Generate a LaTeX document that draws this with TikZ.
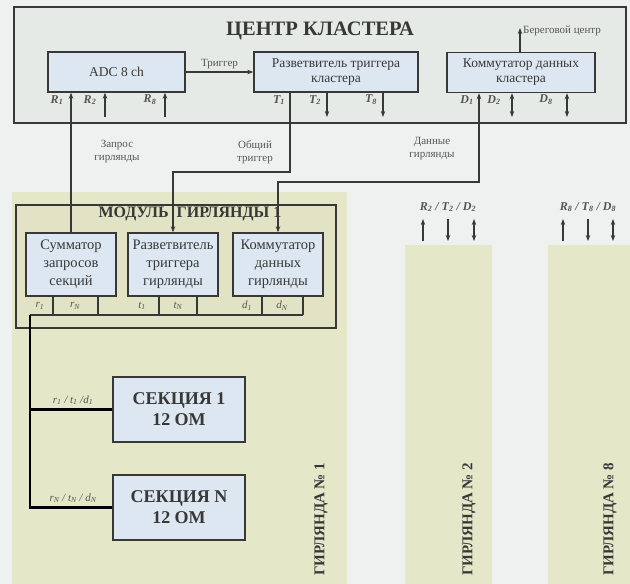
\documentclass[tikz,border=0pt]{standalone}
\usepackage{fontspec}
\setmainfont{Liberation Serif}
\usetikzlibrary{arrows.meta}
\definecolor{bg}{HTML}{EEF1F0}
\definecolor{stripe}{HTML}{E4E7C8}
\definecolor{clusterfill}{HTML}{E6EAE6}
\definecolor{boxfill}{HTML}{DCE7F1}
\definecolor{modfill}{HTML}{E2E3C4}
\definecolor{ln}{HTML}{383838}
\definecolor{lbl}{HTML}{555555}
\begin{document}
\begin{tikzpicture}[x=1pt,y=-1pt,
  outerbox/.style={draw=ln, line width=1.4pt, fill=clusterfill},
  modbox/.style={draw=ln, line width=1.4pt, fill=modfill},
  blk/.style={draw=ln, line width=1.4pt, fill=boxfill, align=center, inner sep=1pt,
    font=\fontsize{13.5}{15}\selectfont, text=ln},
  mblk/.style={draw=ln, line width=1.4pt, fill=boxfill, align=center, inner sep=1pt,
    minimum width=90pt, minimum height=63pt, font=\fontsize{14.5}{18}\selectfont, text=ln},
  secbox/.style={draw=ln, line width=1.4pt, fill=boxfill, align=center, text=ln,
    minimum width=132pt, minimum height=65pt, font=\bfseries\fontsize{18}{21}\selectfont},
  port/.style={text=lbl, font=\bfseries\itshape\fontsize{12}{12}\selectfont, inner sep=0pt},
  cell/.style={text=lbl, font=\itshape\fontsize{11}{11}\selectfont, inner sep=0pt},
  note/.style={text=ln!85, align=center, font=\fontsize{11}{13}\selectfont, inner sep=0pt},
  arr/.style={draw=ln, line width=1.1pt, -{Stealth[length=6pt,width=4.5pt]}},
  darr/.style={draw=ln, line width=1.1pt, {Stealth[length=6pt,width=4.5pt]}-{Stealth[length=6pt,width=4.5pt]}},
  wire/.style={draw=ln, line width=1.1pt},
  busline/.style={draw=black, line width=2.2pt},
  garl/.style={rotate=90, anchor=west, inner sep=0pt, font=\bfseries\fontsize{15}{15}\selectfont, text=ln}
]
\useasboundingbox (0,0) rectangle (630,584);
\fill[bg] (0,0) rectangle (630,584);
% stripes
\fill[stripe] (12,192) rectangle (347,584);
\fill[stripe] (405,245) rectangle (492,584);
\fill[stripe] (548,245) rectangle (630,584);

% cluster center
\node[outerbox, minimum width=612pt, minimum height=116pt, inner sep=0pt] (cluster) at (320,65) {};
\node[font=\bfseries\fontsize{20.5}{20.5}\selectfont, text=ln] (ctitle) at (320,31) {ЦЕНТР КЛАСТЕРА};
\node[blk, minimum width=137pt, minimum height=40pt] (adc) at (116.5,72) {ADC 8 ch};
\node[blk, minimum width=164pt, minimum height=40pt] (trc) at (336,72) {Разветвитель триггера\\кластера};
\node[blk, minimum width=148pt, minimum height=40pt] (dcc) at (521,72.5) {Коммутатор данных\\кластера};

\draw[arr] (adc.east) -- node[note, above=3pt] {Триггер} (trc.west);

\coordinate (shore) at (520,28);
\draw[arr] (shore |- dcc.north) -- (shore);
\node[note, anchor=west] (shoretxt) at (523,31) {Береговой центр};

% port coordinates
\coordinate (R2) at (105,0);
\coordinate (R8) at (165,0);
\coordinate (T1) at (290,0);
\coordinate (T2) at (327,0);
\coordinate (T8) at (383,0);
\coordinate (D1) at (479,0);
\coordinate (D2) at (512,0);
\coordinate (D8) at (567,0);
\coordinate (low) at (0,117);

\node[port] at (57,100) {R\textsubscript{1}};
\node[port] at (90,100) {R\textsubscript{2}};
\node[port] at (150,100) {R\textsubscript{8}};
\node[port] at (279,100) {T\textsubscript{1}};
\node[port] at (315,100) {T\textsubscript{2}};
\node[port] at (371,100) {T\textsubscript{8}};
\node[port] at (467,100) {D\textsubscript{1}};
\node[port] at (494,100) {D\textsubscript{2}};
\node[port] at (546,100) {D\textsubscript{8}};

\draw[arr] (R2 |- low) -- (R2 |- adc.south);
\draw[arr] (R8 |- low) -- (R8 |- adc.south);
\draw[arr] (T2 |- trc.south) -- (T2 |- low);
\draw[arr] (T8 |- trc.south) -- (T8 |- low);
\draw[darr] (D2 |- dcc.south) -- (D2 |- low);
\draw[darr] (D8 |- dcc.south) -- (D8 |- low);

% notes between
\node[note] at (117,152) {Запрос\\гирлянды};
\node[note] at (255,152) {Общий\\триггер};
\node[note] at (432,149) {Данные\\гирлянды};

% module
\node[modbox, minimum width=320pt, minimum height=123pt, inner sep=0pt] (module) at (176,266.5) {};
\node[font=\bfseries\fontsize{16}{16}\selectfont, text=ln] (mtitle) at (190,214) {МОДУЛЬ\ \ ГИРЛЯНДЫ 1};
\node[mblk] (sum) at (71,264.5) {Сумматор\\запросов\\секций};
\node[mblk] (trg) at (173,264.5) {Разветвитель\\триггера\\гирлянды};
\node[mblk] (dcg) at (278,264.5) {Коммутатор\\данных\\гирлянды};

% connections cluster <-> module
\draw[arr] (sum.north) -- (sum.north |- adc.south);
\draw[arr] (T1 |- trc.south) -- (T1 |- 0,172) -| (trg.north);
\draw[darr] (D1 |- dcc.south) -- (D1 |- 0,182) -| (dcg.north);

% cells
\coordinate (bus) at (30,315);
\foreach \cx in {53,98,159,197,262,303}{
  \draw[wire] (\cx,296) -- (\cx,315);
}
\node[cell] at (40,306) {r\textsubscript{1}};
\node[cell] at (75,306) {r\textsubscript{N}};
\node[cell] at (142,306) {t\textsubscript{1}};
\node[cell] at (178,306) {t\textsubscript{N}};
\node[cell] at (247,306) {d\textsubscript{1}};
\node[cell] at (282,306) {d\textsubscript{N}};
\draw[wire, line width=1.4pt] (bus) -- (303,315);

% sections
\node[secbox] (sec1) at (179,409.5) {СЕКЦИЯ 1\\12 ОМ};
\node[secbox] (secN) at (179,507.5) {СЕКЦИЯ N\\12 ОМ};
\draw[busline] (bus) -- (bus |- secN.west) -- (secN.west);
\draw[busline] (bus |- sec1.west) -- (sec1.west);
\node[cell, anchor=south] at (73,405) {r\textsubscript{1} / t\textsubscript{1} /d\textsubscript{1}};
\node[cell, anchor=south] at (73,503) {r\textsubscript{N} / t\textsubscript{N} / d\textsubscript{N}};

% other garlands
\node[port] at (448,207) {R\textsubscript{2} / T\textsubscript{2} / D\textsubscript{2}};
\node[port] at (588,207) {R\textsubscript{8} / T\textsubscript{8} / D\textsubscript{8}};
\coordinate (g2a) at (423,241); \coordinate (g2b) at (423,219);
\draw[arr] (g2a) -- (g2b);
\coordinate (g2c) at (448,219); \coordinate (g2d) at (448,241);
\draw[arr] (g2c) -- (g2d);
\coordinate (g2e) at (474,219); \coordinate (g2f) at (474,241);
\draw[darr] (g2e) -- (g2f);
\coordinate (g8a) at (563,241); \coordinate (g8b) at (563,219);
\draw[arr] (g8a) -- (g8b);
\coordinate (g8c) at (588,219); \coordinate (g8d) at (588,241);
\draw[arr] (g8c) -- (g8d);
\coordinate (g8e) at (613,219); \coordinate (g8f) at (613,241);
\draw[darr] (g8e) -- (g8f);

\node[garl] (gar1) at (321,576) {ГИРЛЯНДА № 1};
\node[garl] (gar2) at (469,576) {ГИРЛЯНДА № 2};
\node[garl] (gar8) at (610,576) {ГИРЛЯНДА № 8};
\end{tikzpicture}
\end{document}
